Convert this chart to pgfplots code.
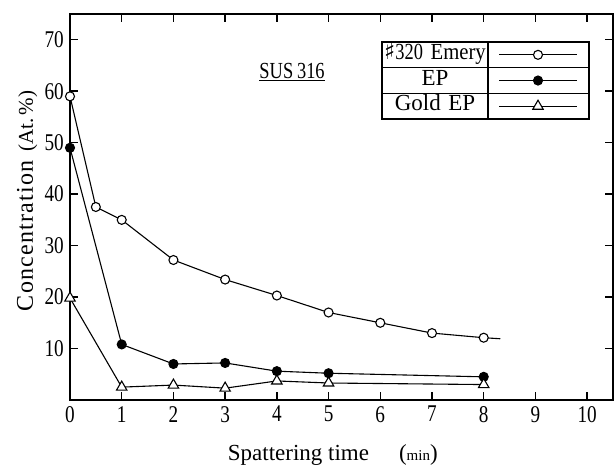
\documentclass[border=0pt]{standalone}
\usepackage{fontspec}
\setmainfont{Liberation Serif}
\newfontfamily\tickfont{Liberation Serif}[FakeStretch=0.8]
\newfontfamily\legfont{Liberation Serif}[FakeStretch=0.9]
\newfontfamily\symfont{DejaVu Sans}
\usepackage{pgfplots}
\pgfplotsset{compat=1.18}
\begin{document}
\begin{tikzpicture}
\begin{axis}[
  scale only axis, width=543pt, height=386pt,
  xmin=0, xmax=10.5, ymin=0, ymax=75,
  xtick={0,...,10}, ytick={10,20,...,70},
  tick align=inside, major tick length=8pt,
  every tick/.style={black, line width=1.4pt},
  axis line style={line width=1.8pt},
  tick label style={font=\tickfont\fontsize{24}{24}\selectfont},
  yticklabel style={inner sep=2pt, xshift=-4pt},
  xticklabel style={inner sep=2pt, yshift=-4pt},
  /pgf/number format/assume math mode=true,
  clip=false,
  every axis x label/.style={at={(axis description cs:0.484,-0.158)}, anchor=base},
  every axis y label/.style={at={(axis description cs:-0.079,0.516)}, rotate=90, anchor=center},
  xlabel={\fontsize{23}{23}\selectfont Spattering time\hspace{30pt}({\fontsize{15}{15}\selectfont min})},
  ylabel={{\fontsize{24}{24}\selectfont\addfontfeatures{LetterSpace=5}Concentration}\hspace{9pt}{\fontsize{21}{21}\selectfont(At.\,\%)}},
  legend plot pos=right,
  legend style={name=leg, at={(rel axis cs:0.5746,0.9275)}, anchor=north west,
    draw, line width=1.4pt, inner sep=0pt, outer sep=0pt, row sep=0pt, column sep=0pt,
    font=\fontsize{23}{23}\selectfont,
    nodes={inner sep=0pt, text width=106pt, align=center, minimum height=25.7pt, text height=14pt, text depth=5pt}},
  legend image code/.code={
    \node[inner sep=0pt, outer sep=0pt, text width=0pt, text height=0pt, text depth=0pt, minimum height=25.7pt, minimum width=101pt, anchor=west] at (0pt,0pt) {};
    \draw[#1, mark indices={2}] plot coordinates {(11pt,0pt) (50pt,0pt) (89pt,0pt)};
  },
]
\addplot[black, line width=1.1pt, mark=*, mark options={fill=white, line width=1.1pt}, mark size=4.5pt, mark indices={1,...,10}]
  coordinates {(0,59) (0.5,37.5) (1,35) (2,27.2) (3,23.4) (4,20.3) (5,17) (6,15) (7,13) (8,12.1) (8.32,11.9)};
\addlegendentry{{\symfont ♯}{\tickfont 320} {\legfont Emery}}
\addplot[black, line width=1.1pt, mark=*, mark options={fill=black}, mark size=4.5pt]
  coordinates {(0,49) (1,10.8) (2,7) (3,7.2) (4,5.6) (5,5.2) (8,4.5)};
\addlegendentry{EP}
\addplot[black, line width=1.1pt, mark=triangle*, mark options={fill=white, line width=1.1pt}, mark size=6pt]
  coordinates {(0,19.8) (1,2.5) (2,2.9) (3,2.3) (4,3.7) (5,3.3) (8,3.0)};
\addlegendentry{Gold EP}
\node[font=\tickfont\fontsize{23}{23}\selectfont] at (rel axis cs:0.409,0.85) {\underline{SUS\,316}};
\end{axis}
\draw[line width=1.4pt] ([xshift=106pt]leg.north west) -- ([xshift=106pt]leg.south west);
\draw[line width=1.4pt] ([yshift=-25.7pt]leg.north west) -- ([yshift=-25.7pt]leg.north east);
\draw[line width=1.4pt] ([yshift=-51.4pt]leg.north west) -- ([yshift=-51.4pt]leg.north east);
\pgfresetboundingbox
\path ([shift={(-70pt,-65pt)}]current axis.south west) rectangle ([shift={(1pt,14pt)}]current axis.north east);
\end{tikzpicture}
\end{document}
